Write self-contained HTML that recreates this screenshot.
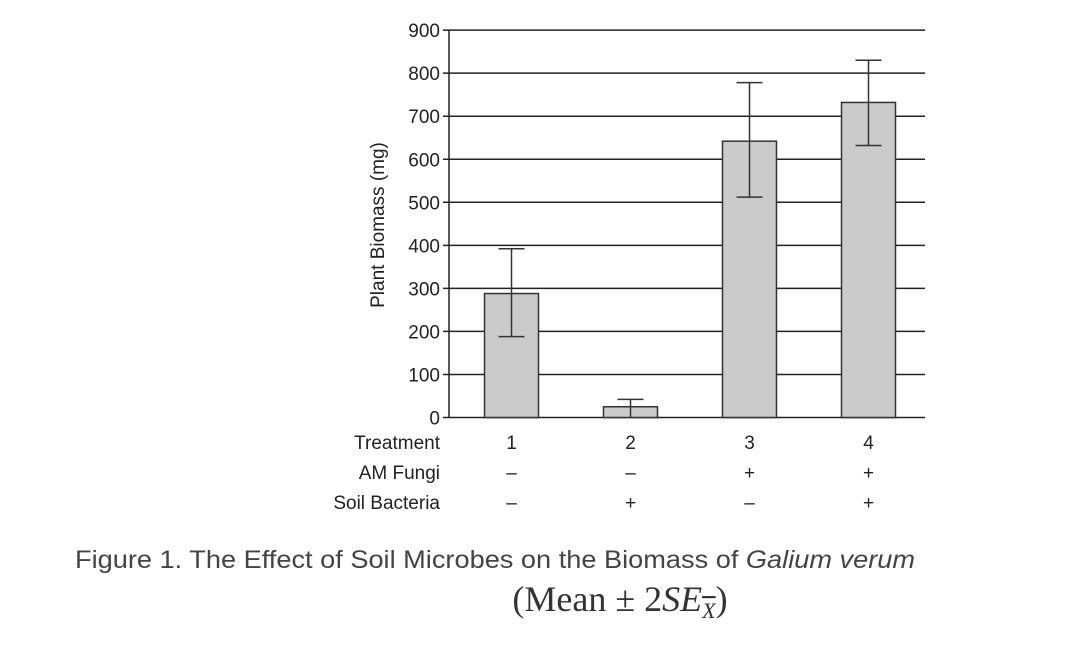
<!DOCTYPE html>
<html><head><meta charset="utf-8"><style>
body{margin:0;background:#fff;width:1077px;height:653px;overflow:hidden;font-family:"Liberation Sans",sans-serif}
</style></head><body>
<svg width="1077" height="653" style="position:absolute;left:0;top:0">
<g id="g"></g>
<text x="75" y="568" font-size="25" fill="#444" textLength="840" lengthAdjust="spacingAndGlyphs">Figure 1. The Effect of Soil Microbes on the Biomass of <tspan font-style="italic">Galium verum</tspan></text>
<text x="620" y="611" font-size="36" text-anchor="middle" fill="#333" font-family="Liberation Serif,serif">(Mean ± 2<tspan font-style="italic">SE</tspan><tspan font-style="italic" font-size="22" dy="7" text-decoration="overline">X</tspan><tspan dy="-7">)</tspan></text>
</svg>
<script>
const categories=["1","2","3","4"];
const fungi=["–","–","+","+"];
const bacteria=["–","+","–","+"];
const means=[288,25,642,732];
const errLow=[188,0,512,632];
const errHigh=[392,42,778,830];
const ticks=[0,100,200,300,400,500,600,700,800,900];
const NS="http://www.w3.org/2000/svg",g=document.getElementById('g');
const x0=449,x1=925,y0=417.5,pxPer=0.4304;
const y=v=>y0-v*pxPer;
const xc=i=>511.5+i*119;
function mk(t,a,p){const e=document.createElementNS(NS,t);for(const k in a)e.setAttribute(k,a[k]);(p||g).appendChild(e);return e;}
ticks.forEach(v=>{
 const l=mk('line',{x1:x0-6,x2:x1,y1:y(v),y2:y(v),stroke:'#222','stroke-width':1.5});
 
 
 const t=mk('text',{x:440,y:y(v)+7,'font-size':19,'text-anchor':'end',fill:'#222'});t.textContent=v;
 
 
});
const ax=mk('line',{x1:x0,x2:x0,y1:y(900),y2:y0,stroke:'#222','stroke-width':1.5});


const yt=mk('text',{transform:'translate(384,225) rotate(-90)','font-size':19,'text-anchor':'middle',fill:'#222'});yt.textContent='Plant Biomass (mg)';


means.forEach((m,i)=>{
 const b=mk('rect',{x:xc(i)-27,y:y(m),width:54,height:y0-y(m),fill:'#cbcbcb',stroke:'#333','stroke-width':1.5});
 
 
 const eg=mk('g',{stroke:'#333','stroke-width':1.5});
 
 
 mk('line',{x1:xc(i),x2:xc(i),y1:y(errHigh[i]),y2:y(errLow[i])},eg);
 mk('line',{x1:xc(i)-13,x2:xc(i)+13,y1:y(errHigh[i]),y2:y(errHigh[i])},eg);
 if(errLow[i]>0)mk('line',{x1:xc(i)-13,x2:xc(i)+13,y1:y(errLow[i]),y2:y(errLow[i])},eg);
 [[categories[i],449],[fungi[i],479],[bacteria[i],509]].forEach((r,j)=>{
  const t=mk('text',{x:xc(i),y:r[1],'font-size':19,'text-anchor':'middle',fill:'#222'});t.textContent=r[0];
  
  
 });
});
[['Treatment',449],['AM Fungi',479],['Soil Bacteria',509]].forEach(r=>{
 const t=mk('text',{x:440,y:r[1],'font-size':19,'text-anchor':'end',fill:'#222'});t.textContent=r[0];
 
 
});
</script>
</body></html>
